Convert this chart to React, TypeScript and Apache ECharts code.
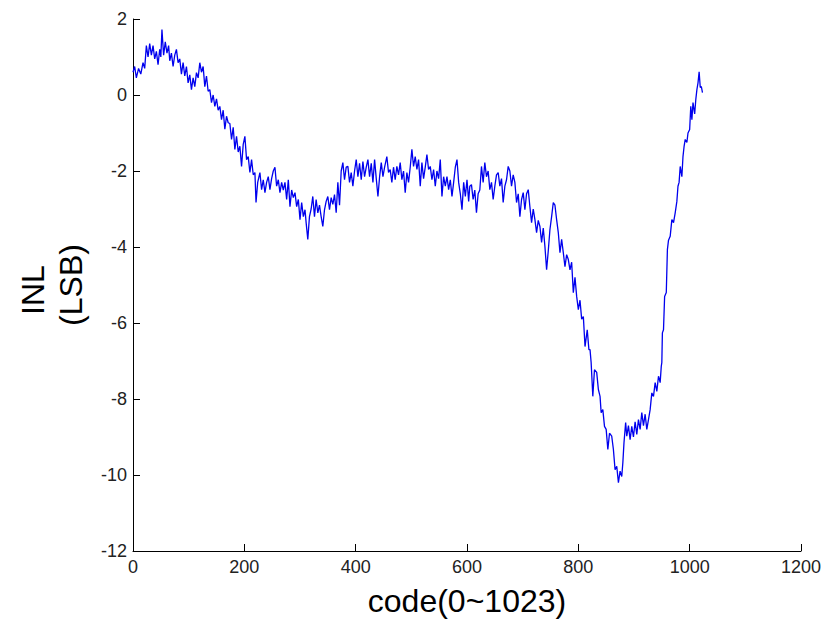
import React, { useEffect, useRef } from "react";
import * as echarts from "echarts";

// code values (x) and INL values (y, LSB)
const codes: number[] = [
  0, 3, 6, 10, 14, 18, 21, 24, 27, 30, 33, 36, 39, 42, 45, 48, 50, 52, 55, 58, 61, 64, 66, 69, 72, 75, 78, 81,
  84, 87, 90, 93, 96, 99, 102, 105, 108, 111, 114, 117, 120, 123, 126, 129, 132, 135, 138, 141, 144, 147,
  150, 153, 156, 159, 162, 165, 168, 171, 174, 177, 180, 183, 186, 189, 192, 195, 198, 201, 204, 207, 210,
  213, 216, 219, 221, 224, 228, 231, 234, 237, 240, 243, 246, 249, 252, 255, 258, 261, 264, 267, 270, 273,
  276, 279, 282, 285, 288, 291, 294, 297, 300, 303, 306, 309, 311, 314, 317, 320, 323, 326, 329, 332, 335,
  338, 341, 344, 347, 350, 353, 356, 359, 362, 365, 368, 371, 374, 377, 380, 383, 386, 389, 392, 395, 398,
  401, 404, 407, 410, 413, 416, 419, 422, 425, 428, 431, 434, 437, 440, 443, 446, 449, 452, 456, 459, 462,
  465, 468, 471, 474, 477, 480, 483, 486, 489, 492, 495, 498, 501, 504, 507, 510, 513, 516, 519, 522, 525,
  528, 531, 534, 537, 540, 543, 546, 549, 552, 555, 558, 561, 564, 567, 570, 573, 576, 579, 582, 585, 588,
  591, 594, 597, 600, 603, 605, 608, 611, 614, 617, 620, 623, 626, 629, 632, 635, 638, 641, 644, 647, 650,
  653, 656, 659, 662, 665, 668, 671, 674, 677, 680, 683, 686, 689, 692, 695, 698, 701, 704, 707, 710, 713,
  716, 719, 722, 725, 728, 731, 734, 737, 740, 743, 746, 749, 752, 755, 758, 761, 764, 767, 770, 773, 776,
  779, 782, 785, 788, 791, 794, 797, 800, 803, 806, 809, 812, 816, 819, 821, 823, 826, 829, 833, 836, 839,
  841, 844, 847, 850, 853, 856, 860, 863, 866, 869, 872, 875, 878, 880, 882, 885, 887, 890, 893, 896, 899,
  902, 905, 908, 911, 914, 917, 920, 923, 926, 929, 932, 935, 938, 941, 944, 947, 949, 950, 951, 953, 955,
  958, 960, 962, 965, 968, 971, 974, 977, 979, 981, 983, 986, 988, 990, 992, 995, 997, 1000, 1002, 1004,
  1006, 1009, 1011, 1013, 1015, 1017, 1019, 1021, 1023,
];

const inl: number[] = [
  0.6, 0.75, 0.45, 0.7, 0.55, 0.85, 0.7, 1.3, 1.0, 1.35, 1.05, 1.3, 0.95, 1.15, 0.8, 1.2, 1.0, 1.72, 1.05, 1.4,
  1.1, 1.3, 0.9, 1.1, 0.75, 1.05, 1.2, 0.85,
  0.95, 0.55, 0.85, 0.5, 0.75, 0.32, 0.53, 0.14, 0.45, 0.22, 0.59, 0.45, 0.85, 0.6, 0.75, 0.22, 0.5, 0.1,
  0.14, -0.2, 0.0, -0.3,
  -0.1, -0.4, -0.3, -0.65, -0.4, -0.9, -0.56, -0.73, -0.75, -1.17, -0.85, -1.43, -1.09, -1.5, -1.35, -1.88,
  -1.3, -1.09, -1.7, -1.62, -2.04,
  -1.7, -2.1, -2.04, -2.83, -2.3, -2.04, -2.49, -2.23, -2.57, -2.3, -2.15, -2.49, -2.2, -2.0, -1.9, -2.4,
  -2.23, -2.57, -2.3, -2.5, -2.3,
  -2.75, -2.23, -2.94, -2.5, -2.7, -2.57, -2.94, -2.75, -3.28, -2.83, -3.2, -3.02, -3.36, -3.8, -3.2, -3.0,
  -2.67, -3.2, -2.75, -3.1, -2.9,
  -3.2, -3.46, -3.02, -2.8, -2.67, -3.02, -2.7, -2.88, -2.62, -3.1, -2.3, -2.9, -2.0, -1.78, -2.23, -1.9,
  -1.88, -2.3, -2.04, -2.4, -2.0,
  -1.7, -2.15, -1.8, -2.23, -1.75, -2.15, -1.9, -1.7, -2.15, -1.8, -2.3, -1.7, -2.2, -2.67, -2.15, -1.78,
  -2.15, -1.9, -1.62, -2.04, -1.96,
  -2.3, -1.9, -2.23, -1.88, -2.1, -1.78, -2.23, -2.0, -2.57, -2.04, -2.3, -1.9, -1.43, -1.88, -1.62, -1.96,
  -1.7, -2.4, -1.78, -2.2, -1.9,
  -1.57, -1.96, -1.88, -2.23, -1.96, -2.4, -2.0, -2.2, -1.7, -2.67, -2.15, -2.4, -2.15, -2.49, -2.23, -2.67,
  -2.3, -1.9, -1.7, -2.3, -2.6,
  -3.02, -2.3, -2.67, -2.23, -2.8, -2.4, -2.36, -2.75, -2.5, -3.1, -2.6, -2.5, -1.88, -2.3, -1.78, -2.15,
  -2.0, -2.49, -2.3, -2.75, -2.4,
  -2.1, -2.04, -2.4, -2.2, -2.83, -2.4, -2.23, -1.88, -2.0, -2.4, -2.1, -2.3, -2.83, -2.6, -3.2, -2.75,
  -2.57, -3.02, -2.6, -2.49, -2.94,
  -3.36, -3.0, -3.28, -3.62, -3.3, -3.46, -3.88, -3.5, -3.99, -4.6, -4.1, -3.54, -3.2, -2.83, -2.9, -3.28,
  -3.62, -4.15, -3.8, -4.15, -4.52,
  -4.2, -4.33, -4.6, -4.4, -5.2, -4.8, -5.3, -5.65, -5.4, -5.9, -5.83, -6.62, -6.18, -6.7, -6.7, -7.04,
  -7.93, -7.23, -7.3, -7.75, -7.93,
  -8.36, -8.28, -8.72, -8.8, -9.33, -8.9, -8.98, -9.33, -9.86, -9.77, -10.2, -9.9, -10.04, -9.67, -9.15,
  -8.62, -8.98, -8.7, -9.07, -8.72, -9.0,
  -8.6, -8.93, -8.54, -8.8, -8.36, -8.7, -8.4, -8.8, -8.54, -8.28, -7.84, -7.93, -7.57, -7.8, -7.4, -7.57,
  -7.14, -7.04, -6.26, -6.18, -5.3,
  -5.2, -4.07, -3.82, -3.72, -3.28, -3.36, -3.1, -2.8, -2.4, -2.3, -1.88, -2.15, -1.62, -1.35, -1.17, -1.25,
  -1.0, -0.91, -0.3, -0.65,
  -0.2, -0.5, -0.12, 0.14, 0.32, 0.61, 0.2, 0.22, 0.06,
];

const xTicks = { min: 0, max: 1200, interval: 200 };
const yTicks = { min: -12, max: 2, interval: 2 };
const xName = "code(0~1023)";
const yNameLines = ["INL", "(LSB)"];

export default function App() {
  const ref = useRef<HTMLDivElement>(null);

  useEffect(() => {
    if (!ref.current) return;
    const chart = echarts.init(ref.current, undefined, { renderer: "svg" });
    const n = Math.min(codes.length, inl.length);
    const data: [number, number][] = [];
    for (let i = 0; i < n; i++) data.push([codes[i], inl[i]]);

    const font = "'Liberation Sans', Arial, sans-serif";
    const axisCommon = {
      axisLine: { show: true, onZero: false, lineStyle: { color: "#000", width: 1 } },
      axisTick: { show: true, inside: true, length: 7, lineStyle: { color: "#000", width: 1 } },
      splitLine: { show: false },
      axisLabel: {
        color: "#222",
        fontSize: 18,
        fontFamily: font,
        formatter: (v: number) => String(v),
      },
    };

    chart.setOption({
      animation: false,
      backgroundColor: "#fff",
      grid: { left: 133, right: 38, top: 19, bottom: 71, containLabel: false, outerBoundsMode: "none" },
      xAxis: {
        type: "value",
        ...xTicks,
        ...axisCommon,
        axisLabel: { ...axisCommon.axisLabel, margin: 7 },
        name: xName,
        nameLocation: "middle",
        nameGap: 34,
        nameTextStyle: { color: "#000", fontSize: 32, fontFamily: font },
      },
      yAxis: {
        type: "value",
        ...yTicks,
        ...axisCommon,
        axisLabel: { ...axisCommon.axisLabel, margin: 6 },
      },
      graphic: [
        {
          type: "text",
          x: 33,
          y: 290,
          rotation: Math.PI / 2,
          style: {
            text: yNameLines[0],
            fill: "#000",
            font: `32px ${font}`,
            textAlign: "center",
            textVerticalAlign: "middle",
          },
        },
        {
          type: "text",
          x: 71,
          y: 285,
          rotation: Math.PI / 2,
          style: {
            text: yNameLines[1],
            fill: "#000",
            font: `32px ${font}`,
            textAlign: "center",
            textVerticalAlign: "middle",
          },
        },
      ],
      series: [
        {
          type: "line",
          data,
          showSymbol: false,
          symbol: "none",
          lineStyle: { color: "#0000ee", width: 1.3 },
          silent: true,
        },
      ],
    });
    return () => chart.dispose();
  }, []);

  return (
    <div
      ref={ref}
      style={{ position: "fixed", left: 0, top: 0, width: 839, height: 622, background: "#fff" }}
    />
  );
}
